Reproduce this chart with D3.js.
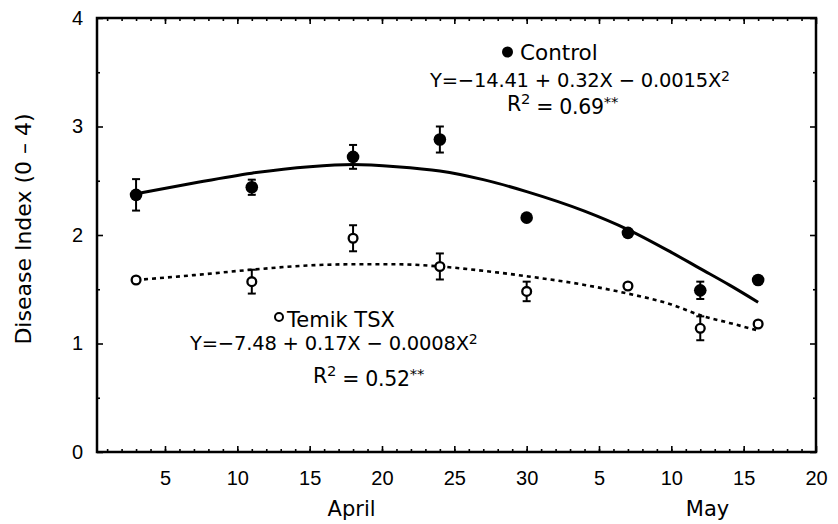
<!DOCTYPE html>
<html>
<head>
<meta charset="utf-8">
<script src="https://cdn.jsdelivr.net/npm/d3@7/dist/d3.min.js"></script>
<style>
    body { margin: 0; background: #fff; }
    svg { display: block; font-family: "DejaVu Sans", sans-serif; }
    .tick text { font-size: 20px; fill: #000; }
    .tick line { stroke: #000; stroke-width: 1.6; }
</style>
</head>
<body>
<svg id="chart" width="838" height="524"></svg>
<script>
// days counted from March 31, so 31..50 are May 1..20
const sampleDays = [3, 11, 18, 24, 30, 37, 42, 46];
const controlMeans = [2.37, 2.44, 2.72, 2.88, 2.16, 2.02, 1.49, 1.585];
const controlErrors = [0.145, 0.07, 0.11, 0.12, 0, 0, 0.08, 0];
const temikMeans = [1.585, 1.57, 1.97, 1.71, 1.48, 1.53, 1.14, 1.18];
const temikErrors = [0, 0.11, 0.12, 0.12, 0.09, 0, 0.11, 0];

// fitted curves
const fitDays = [3, 7, 11, 15, 18, 21, 24, 27, 30, 34, 37, 40, 42, 44, 46];
const controlFit = [2.38, 2.48, 2.57, 2.63, 2.65, 2.63, 2.59, 2.51, 2.40, 2.22, 2.05, 1.84, 1.69, 1.54, 1.38];
const temikFit = [1.585, 1.63, 1.68, 1.72, 1.73, 1.73, 1.71, 1.67, 1.62, 1.54, 1.46, 1.36, 1.26, 1.19, 1.12];

const xTickDays = [5, 10, 15, 20, 25, 30, 35, 40, 45, 50];
const xTickLabels = ["5", "10", "15", "20", "25", "30", "5", "10", "15", "20"];
const monthNames = ["April", "May"];
const monthCenters = [17.9, 42.5];
const yTicks = [0, 1, 2, 3, 4];

const margin = {top: 18, right: 22, bottom: 72, left: 97};
const W = 838, H = 524;
const width = W - margin.left - margin.right;
const height = H - margin.top - margin.bottom;

const svg = d3.select("#chart");
const g = svg.append("g").attr("transform", `translate(${margin.left},${margin.top})`);

const x = d3.scaleLinear().domain([0.3, 50]).range([0, width]);
const y = d3.scaleLinear().domain([0, 4]).range([height, 0]);

const minorDays = d3.range(1, 50);
const minorY = [0.5, 1.5, 2.5, 3.5];

// axes, ticks pointing inward on all four sides
const clean = sel => sel.select(".domain").remove();

g.append("g").attr("transform", `translate(0,${height})`)
    .call(d3.axisBottom(x).tickValues(minorDays).tickSize(-3).tickFormat(""))
    .call(clean);
g.append("g").attr("transform", `translate(0,${height})`)
    .call(d3.axisBottom(x).tickValues(xTickDays).tickSize(-6).tickPadding(19)
        .tickFormat((d, i) => xTickLabels[i]))
    .call(clean);
g.append("g")
    .call(d3.axisTop(x).tickValues(minorDays).tickSize(-3).tickFormat(""))
    .call(clean);
g.append("g")
    .call(d3.axisTop(x).tickValues(xTickDays).tickSize(-6).tickFormat(""))
    .call(clean);

g.append("g")
    .call(d3.axisLeft(y).tickValues(yTicks).tickSize(-6).tickPadding(14).tickFormat(d3.format("d")))
    .call(clean);
g.append("g")
    .call(d3.axisLeft(y).tickValues(minorY).tickSize(-3).tickFormat(""))
    .call(clean);
g.append("g").attr("transform", `translate(${width},0)`)
    .call(d3.axisRight(y).tickValues(yTicks).tickSize(-6).tickFormat(""))
    .call(clean);
g.append("g").attr("transform", `translate(${width},0)`)
    .call(d3.axisRight(y).tickValues(minorY).tickSize(-3).tickFormat(""))
    .call(clean);

g.append("rect")
    .attr("width", width).attr("height", height)
    .attr("fill", "none").attr("stroke", "#000").attr("stroke-width", 2.5);

g.selectAll(".month")
    .data(monthNames)
    .join("text")
    .attr("class", "month")
    .attr("x", (d, i) => x(monthCenters[i]))
    .attr("y", height + 64)
    .attr("text-anchor", "middle")
    .attr("font-size", 21)
    .text(d => d);

svg.append("text")
    .attr("transform", `translate(31,229) rotate(-90)`)
    .attr("text-anchor", "middle")
    .attr("font-size", 22)
    .text("Disease Index (0 \u2013 4)");

// fitted lines
const line = d3.line()
    .x((d, i) => x(fitDays[i]))
    .y(d => y(d))
    .curve(d3.curveMonotoneX);

g.append("path")
    .datum(controlFit)
    .attr("d", line)
    .attr("fill", "none")
    .attr("stroke", "#000")
    .attr("stroke-width", 3);

g.append("path")
    .datum(temikFit)
    .attr("d", line)
    .attr("fill", "none")
    .attr("stroke", "#000")
    .attr("stroke-width", 2.6)
    .attr("stroke-dasharray", "4,4");

// error bars + markers
function drawSeries(means, errors, filled) {
    const pts = sampleDays.map((d, i) => ({day: d, v: means[i], e: errors[i]}));
    const withErr = pts.filter(p => p.e > 0);
    const bars = g.append("g").attr("stroke", "#000").attr("stroke-width", 2);

    bars.selectAll(".stem").data(withErr).join("line")
        .attr("x1", p => x(p.day)).attr("x2", p => x(p.day))
        .attr("y1", p => y(p.v - p.e)).attr("y2", p => y(p.v + p.e));
    bars.selectAll(".capTop").data(withErr).join("line")
        .attr("x1", p => x(p.day) - 4).attr("x2", p => x(p.day) + 4)
        .attr("y1", p => y(p.v + p.e)).attr("y2", p => y(p.v + p.e));
    bars.selectAll(".capBot").data(withErr).join("line")
        .attr("x1", p => x(p.day) - 4).attr("x2", p => x(p.day) + 4)
        .attr("y1", p => y(p.v - p.e)).attr("y2", p => y(p.v - p.e));

    g.append("g").selectAll("circle").data(pts).join("circle")
        .attr("cx", p => x(p.day))
        .attr("cy", p => y(p.v))
        .attr("r", filled ? 6.3 : 4.4)
        .attr("fill", filled ? "#000" : "#fff")
        .attr("stroke", "#000")
        .attr("stroke-width", filled ? 0 : 2.3);
}

drawSeries(controlMeans, controlErrors, true);
drawSeries(temikMeans, temikErrors, false);

// annotations: parts are plain text or superscripts
function eqText(xPos, yPos, parts, size, spacing) {
    const t = svg.append("text")
        .attr("x", xPos).attr("y", yPos)
        .attr("font-size", size)
        .attr("letter-spacing", spacing || 0);
    let raised = false;
    parts.forEach(p => {
        const span = t.append("tspan");
        if (p.sup) {
            span.attr("dy", raised ? 0 : "-0.45em").attr("font-size", size * 0.72).text(p.sup);
            raised = true;
        } else {
            if (raised) span.attr("dy", (size * 0.45) + "px");
            span.text(p.txt);
            raised = false;
        }
    });
    return t;
}

svg.append("circle").attr("cx", 507.5).attr("cy", 52).attr("r", 5.5).attr("fill", "#000");
eqText(520, 60, [{txt: "Control"}], 21.5);
eqText(430, 87, [{txt: "Y=\u221214.41 + 0.32X \u2212 0.0015X"}, {sup: "2"}], 19.5, -0.2);
eqText(507, 111, [{txt: "R"}, {sup: "2"}, {txt: " = 0.69"}, {sup: "**"}], 20.5, -0.3);

svg.append("circle").attr("cx", 279).attr("cy", 317).attr("r", 4).attr("fill", "#fff")
    .attr("stroke", "#000").attr("stroke-width", 2);
eqText(287, 327, [{txt: "Temik TSX"}], 21);
eqText(190, 350, [{txt: "Y=\u22127.48 + 0.17X \u2212 0.0008X"}, {sup: "2"}], 19.5, -0.2);
eqText(313, 383, [{txt: "R"}, {sup: "2"}, {txt: " = 0.52"}, {sup: "**"}], 20.5, -0.3);
</script>
</body>
</html>
